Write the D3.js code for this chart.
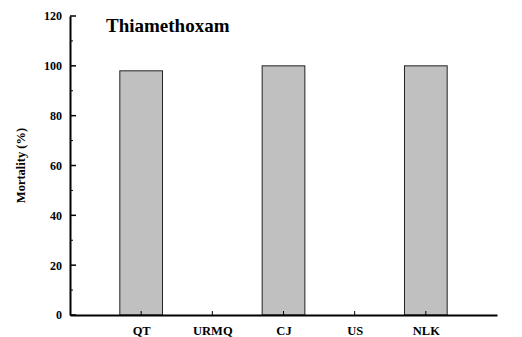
<!DOCTYPE html>
<html>
<head>
<meta charset="utf-8">
<script src="https://cdn.jsdelivr.net/npm/d3@7"></script>
<style>
  body { margin: 0; background: #fff; }
</style>
</head>
<body>
<svg id="chart"></svg>
<script>
// data
var categories = ["QT", "URMQ", "CJ", "US", "NLK"];
var mortality = [98, 0, 100, 0, 100];
var yTicks = [0, 20, 40, 60, 80, 100, 120];
var yMinor = [10, 30, 50, 70, 90, 110];

var serif = "'Liberation Serif', 'Times New Roman', serif";

var svgWidth = 522, svgHeight = 337;
var margin = { top: 16, right: 25, bottom: 22, left: 70 };
var width = svgWidth - margin.left - margin.right;
var height = svgHeight - margin.top - margin.bottom;

var svg = d3.select("#chart")
    .attr("width", svgWidth)
    .attr("height", svgHeight)
    .style("font-family", serif)
    .style("font-weight", "bold");

var g = svg.append("g")
    .attr("transform", "translate(" + margin.left + "," + margin.top + ")");

// categories sit at 1..5 on a 0..6 range
var x = d3.scaleLinear().domain([0, categories.length + 1]).range([0, width]);
var y = d3.scaleLinear().domain([0, 120]).range([height, 0]);
var barW = (x(1) - x(0)) * 0.6;

// bars
g.selectAll("rect.bar")
    .data(mortality)
    .enter().append("rect")
    .attr("class", "bar")
    .attr("x", function(d, i) { return x(i + 1) - barW / 2; })
    .attr("y", function(d) { return y(d); })
    .attr("width", barW)
    .attr("height", function(d) { return height - y(d); })
    .attr("fill", "#c0c0c0")
    .attr("stroke", "#222")
    .attr("stroke-width", 1)
    .style("display", function(d) { return d > 0 ? null : "none"; });

// y axis
var yAxis = g.append("g")
    .call(d3.axisLeft(y).tickValues(yTicks).tickSize(0).tickPadding(8));
yAxis.attr("font-family", serif);
yAxis.select(".domain").attr("stroke", "#000").attr("stroke-width", 2);
yAxis.selectAll(".tick text")
    .attr("font-size", 12)
    .attr("font-family", serif)
    .attr("font-weight", "bold");

// inward ticks on y
g.selectAll("line.ymaj")
    .data(yTicks)
    .enter().append("line")
    .attr("x1", 0).attr("x2", 6)
    .attr("y1", function(d) { return y(d); })
    .attr("y2", function(d) { return y(d); })
    .attr("stroke", "#000").attr("stroke-width", 1.5);
g.selectAll("line.ymin")
    .data(yMinor)
    .enter().append("line")
    .attr("x1", 0).attr("x2", 3)
    .attr("y1", function(d) { return y(d); })
    .attr("y2", function(d) { return y(d); })
    .attr("stroke", "#000").attr("stroke-width", 1);

// x axis
var xAxis = g.append("g")
    .attr("transform", "translate(0," + height + ")")
    .call(d3.axisBottom(x)
        .tickValues(d3.range(1, categories.length + 1))
        .tickFormat(function(d) { return categories[d - 1]; })
        .tickSize(0).tickPadding(11));
xAxis.attr("font-family", serif);
xAxis.select(".domain").attr("stroke", "#000").attr("stroke-width", 2);
xAxis.selectAll(".tick text")
    .attr("font-size", 12.5)
    .attr("font-family", serif)
    .attr("font-weight", "bold");

// inward ticks on x
g.selectAll("line.xt")
    .data(d3.range(1, categories.length + 1))
    .enter().append("line")
    .attr("x1", function(d) { return x(d); })
    .attr("x2", function(d) { return x(d); })
    .attr("y1", height).attr("y2", height - 4)
    .attr("stroke", "#000").attr("stroke-width", 1);

// y label
svg.append("text")
    .attr("transform", "translate(25," + (margin.top + height / 2) + ") rotate(-90)")
    .attr("text-anchor", "middle")
    .attr("font-family", serif)
    .attr("font-weight", "bold")
    .attr("font-size", 12.5)
    .text("Mortality (%)");

// title
svg.append("text")
    .attr("x", 106)
    .attr("y", 32)
    .attr("font-family", serif)
    .attr("font-weight", "bold")
    .attr("font-size", 19)
    .text("Thiamethoxam");
</script>
</body>
</html>
